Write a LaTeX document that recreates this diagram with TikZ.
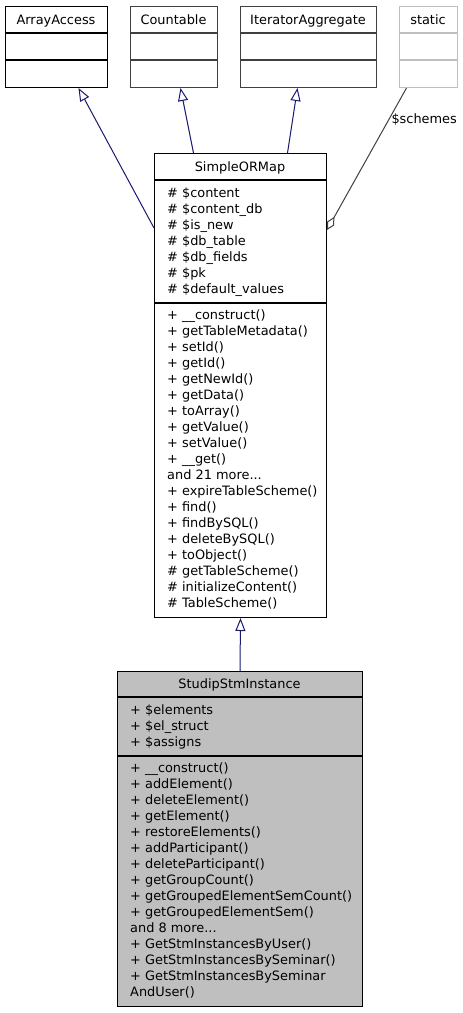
\documentclass[tikz,border=0pt]{standalone}
\usepackage{fontspec}
\setmainfont{DejaVu Sans}
\usepackage{xcolor}
\usetikzlibrary{arrows.meta}
\definecolor{navyline}{HTML}{191970}
\definecolor{edgegray}{HTML}{404040}
\definecolor{boxgray}{HTML}{BFBFBF}
\newcommand{\moreops}[1]{and #1 more...}

\tikzset{
  classbox/.style={draw, line width=1pt, anchor=north west, inner sep=0pt},
  sepline/.style={line width=1.3pt},
  member/.style={anchor=west, inner sep=0pt, text height=10.5pt, text depth=1.5pt,
    font=\fontsize{12.9}{16}\selectfont},
  classname/.style={inner sep=0pt, text height=10.5pt, text depth=1.5pt,
    font=\fontsize{12.9}{16}\selectfont},
  inherit/.style={navyline, line width=1pt, -{Triangle[open, length=13pt, width=10pt]}},
  aggreg/.style={edgegray, line width=1pt, -{Diamond[open, length=15pt, width=8pt]}},
}

\begin{document}
\begin{tikzpicture}[x=1pt, y=-1pt]
      \useasboundingbox (0,0) rectangle (463,1013);

      % Interfaces
      \node[classbox, minimum width=102pt, minimum height=81pt] (arrayaccess) at (5,6) {};
      \draw[sepline] (5,33) -- (107,33);
      \draw[sepline] (5,60) -- (107,60);
      \node[classname] at (56,20) {ArrayAccess};

      \node[classbox, draw=edgegray, minimum width=87pt, minimum height=81pt] (countable) at (130,6) {};
      \draw[sepline, edgegray] (130,33) -- (217,33);
      \draw[sepline, edgegray] (130,60) -- (217,60);
      \node[classname] at (173.5,20) {Countable};

      \node[classbox, draw=edgegray, minimum width=136pt, minimum height=81pt] (iteraggr) at (240,6) {};
      \draw[sepline, edgegray] (240,33) -- (376,33);
      \draw[sepline, edgegray] (240,60) -- (376,60);
      \node[classname] at (308,20) {IteratorAggregate};

      % static
      \node[classbox, draw=boxgray, minimum width=58pt, minimum height=81pt] (static) at (399,6) {};
      \draw[sepline, boxgray] (399,33) -- (457,33);
      \draw[sepline, boxgray] (399,60) -- (457,60);
      \node[classname] at (428,20) {static};

      % SimpleORMap
      \node[classbox, minimum width=172pt, minimum height=464pt] (smap) at (154,153) {};
      \draw[sepline] (154,180) -- (326,180);
      \draw[sepline] (154,303) -- (326,303);
      \node[classname] at (240,167) {SimpleORMap};
      \foreach \m [count=\i from 0] in {\# \$content, \# \$content\_db, \# \$is\_new,
          \# \$db\_table, \# \$db\_fields, \# \$pk, \# \$default\_values}{
        \node[member] (smapattr\i) at (167,193+16*\i) {\m};
      }
      \foreach \m [count=\i from 0] in {+ \_\_construct(), + getTableMetadata(), + setId(),
          + getId(), + getNewId(), + getData(), + toArray(), + getValue(), + setValue(),
          + \_\_get(), \moreops{21}, + expireTableScheme(), + find(), + findBySQL(),
          + deleteBySQL(), + toObject(), \# getTableScheme(), \# initializeContent(),
          \# TableScheme()}{
        \node[member] (smapop\i) at (167,315+16*\i) {\m};
      }

      % StudipStmInstance
      \node[classbox, fill=boxgray, minimum width=245pt, minimum height=335pt] (stm) at (117,671) {};
      \draw[sepline] (117,697) -- (362,697);
      \draw[sepline] (117,756) -- (362,756);
      \node[classname] at (239.5,684) {StudipStmInstance};
      \foreach \m [count=\i from 0] in {+ \$elements, + \$el\_struct, + \$assigns}{
        \node[member] (stmattr\i) at (130,710+16*\i) {\m};
      }
      \foreach \m [count=\i from 0] in {+ \_\_construct(), + addElement(), + deleteElement(),
          + getElement(), + restoreElements(), + addParticipant(), + deleteParticipant(),
          + getGroupCount(), + getGroupedElementSemCount(), + getGroupedElementSem(),
          \moreops{8}, + GetStmInstancesByUser(), + GetStmInstancesBySeminar(),
          + GetStmInstancesBySeminar, AndUser()}{
        \node[member] (stmop\i) at (130,768+16*\i) {\m};
      }

      % Edges
      \draw[inherit] ([yshift=-75pt]smap.north west) -- ([xshift=22pt]arrayaccess.south);
      \draw[inherit] ([xshift=-47pt]smap.north) -- ([xshift=6.5pt]countable.south);
      \draw[inherit] ([xshift=47pt]smap.north) -- ([xshift=-11pt]iteraggr.south);
      \draw[aggreg] ([xshift=-22pt]static.south) -- ([yshift=-77pt]smap.north east)
        node[pos=0.22, right=2pt, classname, text=black] (schemes) {\$schemes};
      \draw[inherit] (stm.north) -- (smap.south);
    \end{tikzpicture}
\end{document}
